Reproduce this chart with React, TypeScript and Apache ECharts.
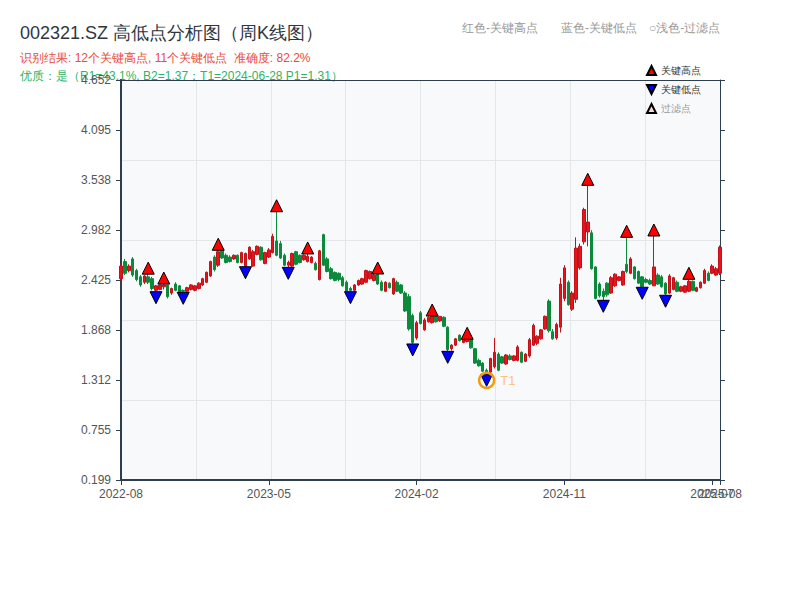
import React, { useEffect, useRef } from "react";
import * as echarts from "echarts";

// Weekly bar dates (Fridays)
const dates2022 = ["08-26","09-02","09-09","09-16","09-23","09-30","10-07","10-14","10-21","10-28","11-04","11-11","11-18","11-25","12-02","12-09","12-16","12-23","12-30"];
const dates2023 = ["01-06","01-13","01-20","01-27","02-03","02-10","02-17","02-24","03-03","03-10","03-17","03-24","03-31","04-07","04-14","04-21","04-28","05-05","05-12","05-19","05-26","06-02","06-09","06-16","06-23","06-30","07-07","07-14","07-21","07-28","08-04","08-11","08-18","08-25","09-01","09-08","09-15","09-22","09-29","10-06","10-13","10-20","10-27","11-03","11-10","11-17","11-24","12-01","12-08","12-15","12-22","12-29"];
const dates2024 = ["01-05","01-12","01-19","01-26","02-02","02-09","02-16","02-23","03-01","03-08","03-15","03-22","03-29","04-05","04-12","04-19","04-26","05-03","05-10","05-17","05-24","05-31","06-07","06-14","06-21","06-28","07-05","07-12","07-19","07-26","08-02","08-09","08-16","08-23","08-30","09-06","09-13","09-20","09-27","10-04","10-11","10-18","10-25","11-01","11-08","11-15","11-22","11-29","12-06","12-13","12-20","12-27"];
const dates2025 = ["01-03","01-10","01-17","01-24","01-31","02-07","02-14","02-21","02-28","03-07","03-14","03-21","03-28","04-04","04-11","04-18","04-25","05-02","05-09","05-16","05-23","05-30","06-06","06-13","06-20","06-27","07-04","07-11","07-18","07-25","08-01","08-08"];

const weekDates = [
  ...dates2022.map((d) => "2022-" + d),
  ...dates2023.map((d) => "2023-" + d),
  ...dates2024.map((d) => "2024-" + d),
  ...dates2025.map((d) => "2025-" + d),
];

const openPrices = [
  2.44, 2.63, 2.53, 2.66, 2.53, 2.46, 2.40, 2.46, 2.44, 2.31,
  2.32, 2.35, 2.37, 2.28, 2.38, 2.36, 2.31, 2.30, 2.32, 2.31,
  2.33, 2.37, 2.40, 2.47, 2.68, 2.59, 2.75, 2.70, 2.68, 2.66,
  2.70, 2.62, 2.58, 2.66, 2.58, 2.71, 2.79, 2.61, 2.68, 2.73,
  2.86, 2.83, 2.70, 2.59, 2.58, 2.74, 2.70, 2.65, 2.63, 2.62,
  2.61, 2.43, 2.93, 2.66, 2.55, 2.51, 2.50, 2.45, 2.40, 2.33,
  2.31, 2.37, 2.38, 2.40, 2.44, 2.42, 2.49, 2.40, 2.30, 2.39,
  2.27, 2.40, 2.37, 2.28, 2.24, 2.03, 1.78, 2.06, 1.87, 1.96,
  1.95, 2.02, 1.97, 2.01, 1.90, 1.66, 1.70, 1.81, 1.73, 1.74,
  1.76, 1.66, 1.53, 1.50, 1.42, 1.40, 1.46, 1.60, 1.57, 1.49,
  1.58, 1.53, 1.53, 1.62, 1.52, 1.58, 1.70, 1.72, 1.77, 1.88,
  2.19, 1.85, 1.78, 1.90, 2.22, 2.40, 2.10, 2.21, 2.56, 2.85,
  2.96, 2.95, 2.57, 2.38, 2.30, 2.39, 2.28, 2.36, 2.42, 2.37,
  2.60, 2.50, 2.57, 2.52, 2.46, 2.43, 2.42, 2.36, 2.48, 2.46,
  2.39, 2.28, 2.32, 2.40, 2.30, 2.29, 2.30, 2.41, 2.30, 2.34,
  2.39, 2.50, 2.50, 2.48, 2.50,
];
const closePrices = [
  2.58, 2.50, 2.58, 2.48, 2.43, 2.37, 2.47, 2.40, 2.33, 2.36,
  2.37, 2.37, 2.24, 2.33, 2.31, 2.28, 2.30, 2.34, 2.37, 2.36,
  2.39, 2.44, 2.51, 2.63, 2.54, 2.74, 2.67, 2.62, 2.63, 2.70,
  2.62, 2.73, 2.72, 2.79, 2.74, 2.80, 2.65, 2.73, 2.76, 2.91,
  2.70, 2.67, 2.59, 2.62, 2.72, 2.60, 2.62, 2.70, 2.69, 2.68,
  2.54, 2.75, 2.59, 2.52, 2.44, 2.42, 2.43, 2.36, 2.30, 2.31,
  2.37, 2.42, 2.44, 2.53, 2.52, 2.48, 2.38, 2.31, 2.40, 2.34,
  2.44, 2.30, 2.28, 2.08, 1.88, 1.73, 1.95, 1.94, 1.98, 2.01,
  2.02, 1.96, 2.02, 1.91, 1.65, 1.70, 1.77, 1.75, 1.78, 1.76,
  1.67, 1.50, 1.47, 1.41, 1.39, 1.55, 1.62, 1.42, 1.50, 1.59,
  1.54, 1.58, 1.68, 1.51, 1.60, 1.76, 1.92, 1.80, 1.87, 2.02,
  1.86, 1.77, 1.93, 2.38, 2.56, 2.15, 2.28, 2.78, 2.80, 3.21,
  3.07, 2.55, 2.22, 2.25, 2.24, 2.26, 2.45, 2.49, 2.46, 2.52,
  2.52, 2.66, 2.44, 2.39, 2.35, 2.40, 2.38, 2.57, 2.38, 2.35,
  2.27, 2.47, 2.45, 2.30, 2.35, 2.36, 2.41, 2.31, 2.34, 2.40,
  2.53, 2.42, 2.58, 2.55, 2.79,
];
const lowPrices = [
  2.42, 2.48, 2.51, 2.46, 2.41, 2.35, 2.38, 2.38, 2.31, 2.295,
  2.31, 2.32, 2.22, 2.26, 2.30, 2.27, 2.288, 2.29, 2.31, 2.30,
  2.32, 2.36, 2.39, 2.46, 2.52, 2.57, 2.66, 2.61, 2.62, 2.65,
  2.61, 2.61, 2.573, 2.65, 2.575, 2.70, 2.64, 2.60, 2.67, 2.72,
  2.69, 2.66, 2.58, 2.566, 2.57, 2.59, 2.61, 2.64, 2.62, 2.61,
  2.53, 2.42, 2.58, 2.51, 2.43, 2.41, 2.41, 2.35, 2.29, 2.295,
  2.30, 2.36, 2.37, 2.39, 2.43, 2.41, 2.37, 2.30, 2.29, 2.33,
  2.26, 2.29, 2.27, 2.07, 1.86, 1.713, 1.76, 1.93, 1.86, 1.95,
  1.94, 1.95, 1.96, 1.90, 1.631, 1.64, 1.69, 1.74, 1.72, 1.73,
  1.66, 1.49, 1.46, 1.40, 1.375, 1.39, 1.44, 1.41, 1.49, 1.48,
  1.53, 1.52, 1.52, 1.50, 1.51, 1.56, 1.69, 1.70, 1.76, 1.87,
  1.84, 1.76, 1.76, 1.84, 2.19, 2.14, 2.08, 2.17, 2.54, 2.82,
  2.80, 2.54, 2.21, 2.23, 2.199, 2.24, 2.27, 2.35, 2.41, 2.36,
  2.50, 2.49, 2.43, 2.38, 2.344, 2.39, 2.37, 2.36, 2.37, 2.34,
  2.255, 2.27, 2.31, 2.29, 2.29, 2.28, 2.29, 2.30, 2.29, 2.33,
  2.38, 2.41, 2.49, 2.47, 2.48,
];
const highPrices = [
  2.60, 2.66, 2.60, 2.68, 2.55, 2.48, 2.48, 2.49, 2.46, 2.37,
  2.375, 2.38, 2.37, 2.34, 2.40, 2.37, 2.32, 2.35, 2.38, 2.37,
  2.40, 2.45, 2.52, 2.64, 2.70, 2.756, 2.75, 2.72, 2.70, 2.71,
  2.71, 2.74, 2.73, 2.80, 2.76, 2.81, 2.80, 2.74, 2.78, 2.94,
  3.185, 2.86, 2.72, 2.64, 2.73, 2.75, 2.71, 2.71, 2.715, 2.69,
  2.63, 2.76, 2.94, 2.68, 2.57, 2.52, 2.51, 2.47, 2.42, 2.35,
  2.38, 2.43, 2.45, 2.54, 2.53, 2.49, 2.492, 2.42, 2.41, 2.40,
  2.45, 2.42, 2.38, 2.30, 2.27, 2.05, 1.97, 2.08, 2.00, 2.02,
  2.024, 2.02, 2.02, 2.02, 1.91, 1.71, 1.78, 1.82, 1.79, 1.765,
  1.76, 1.67, 1.55, 1.51, 1.44, 1.56, 1.78, 1.62, 1.58, 1.60,
  1.60, 1.59, 1.70, 1.63, 1.61, 1.78, 1.94, 1.81, 1.88, 2.03,
  2.21, 1.88, 1.95, 2.45, 2.59, 2.42, 2.30, 2.90, 2.83, 3.23,
  3.479, 2.98, 2.58, 2.40, 2.33, 2.40, 2.47, 2.50, 2.47, 2.53,
  2.90, 2.68, 2.58, 2.53, 2.47, 2.45, 2.44, 2.915, 2.50, 2.48,
  2.40, 2.49, 2.46, 2.42, 2.36, 2.37, 2.433, 2.42, 2.35, 2.41,
  2.55, 2.52, 2.60, 2.57, 2.81,
];

const keyHighIdx = [7, 11, 25, 40, 48, 66, 80, 89, 120, 130, 137, 146];
const keyLowIdx = [9, 16, 32, 43, 59, 75, 84, 94, 124, 134, 140];
const filteredIdx: number[] = [];
const t1Idx = 94;

const yMin = 0.1986;
const yMax = 4.6516;
const yInterval = 0.556625;

const titleText = "002321.SZ 高低点分析图（周K线图）";
const resultText = "识别结果: 12个关键高点, 11个关键低点  准确度: 82.2%";
const qualityText = "优质：是（R1=43.1%, B2=1.37；T1=2024-06-28 P1=1.31）";
const noteTexts = ["红色-关键高点", "蓝色-关键低点", "○浅色-过滤点"];

export default function App() {
  const ref = useRef<HTMLDivElement>(null);
  useEffect(() => {
    if (!ref.current) return;
    const chart = echarts.init(ref.current, undefined, { renderer: "svg" });
    const N = weekDates.length;
    const axisColor = "#2c3e50";
    const splitColor = "#e3e6eb";
    const candleData = weekDates.map((_, i) => [openPrices[i], closePrices[i], lowPrices[i], highPrices[i]]);

    const option: any = {
      animation: false,
      backgroundColor: "#ffffff",
      title: {
        text: titleText,
        left: 20,
        top: 24,
        padding: 0,
        textStyle: { fontSize: 18, fontWeight: "normal", color: "#2f3640" },
      },
      graphic: [
        { type: "text", left: 20, top: 52, style: { text: resultText, fill: "#e74c3c", fontSize: 12 } },
        { type: "text", left: 20, top: 70, style: { text: qualityText, fill: "#2fb365", fontSize: 12 } },
        { type: "text", left: 462, top: 22, style: { text: noteTexts[0], fill: "#999999", fontSize: 12 } },
        { type: "text", left: 561, top: 22, style: { text: noteTexts[1], fill: "#999999", fontSize: 12 } },
        { type: "text", left: 649, top: 22, style: { text: noteTexts[2], fill: "#999999", fontSize: 12 } },
      ],
      legend: {
        orient: "vertical",
        left: 646,
        top: 65,
        padding: 0,
        itemWidth: 9,
        itemHeight: 9,
        itemGap: 8,
        textStyle: { fontSize: 10, color: "#333" },
        data: [
          { name: "关键高点", icon: "triangle" },
          { name: "关键低点", icon: "path://M0,0L10,0L5,10Z" },
          { name: "过滤点", icon: "triangle", textStyle: { color: "#999" } },
        ],
      },
      grid: {
        left: 121,
        right: 80,
        top: 80,
        bottom: 120,
        show: true,
        backgroundColor: "#f8f9fb",
        borderWidth: 0,
      },
      xAxis: [
        {
          type: "category",
          data: weekDates,
          boundaryGap: false,
          position: "bottom",
          axisLine: { show: true, lineStyle: { color: axisColor, width: 2 } },
          axisTick: { show: true, length: 5, lineStyle: { color: axisColor } },
          axisLabel: {
            interval: (i: number) => i % 38 === 0,
            formatter: (v: string) => v.slice(0, 7),
            color: "#555",
            fontSize: 12,
            margin: 8,
          },
          splitLine: { show: false },
        },
        {
          type: "value",
          position: "top",
          min: 0,
          max: 8,
          interval: 1,
          axisLine: { show: true, lineStyle: { color: axisColor, width: 1 } },
          axisTick: { show: false },
          axisLabel: { show: false },
          splitLine: { show: true, lineStyle: { color: splitColor, width: 1 } },
        },
        {
          type: "category",
          data: weekDates,
          boundaryGap: false,
          position: "bottom",
          axisLine: { show: false },
          axisTick: { show: true, length: 5, lineStyle: { color: axisColor } },
          axisLabel: {
            interval: (i: number) => i === N - 1,
            formatter: (v: string) => v.slice(0, 7),
            color: "#555",
            fontSize: 12,
            margin: 8,
          },
          splitLine: { show: false },
        },
      ],
      yAxis: [
        {
          type: "value",
          position: "left",
          min: yMin,
          max: yMax,
          interval: yInterval,
          axisLine: { show: true, lineStyle: { color: axisColor, width: 2 } },
          axisTick: { show: true, length: 5, lineStyle: { color: axisColor } },
          axisLabel: { formatter: (v: number) => v.toFixed(3), color: "#555", fontSize: 12, margin: 10 },
          splitLine: { show: false },
        },
        {
          type: "value",
          position: "right",
          min: yMin,
          max: yMax,
          interval: yInterval,
          axisLine: { show: true, lineStyle: { color: axisColor, width: 1 } },
          axisTick: { show: true, length: 5, lineStyle: { color: axisColor } },
          axisLabel: { show: false },
          splitLine: { show: false },
        },
        {
          type: "value",
          position: "left",
          min: 0,
          max: 5,
          interval: 1,
          axisLine: { show: false },
          axisTick: { show: false },
          axisLabel: { show: false },
          splitLine: { show: true, lineStyle: { color: splitColor, width: 1 } },
        },
      ],
      series: [
        {
          name: "周K线",
          type: "candlestick",
          xAxisIndex: 0,
          yAxisIndex: 0,
          data: candleData,
          barWidth: 3,
          itemStyle: {
            color: "#e8141c",
            color0: "#0b8a3c",
            borderColor: "#c3111a",
            borderColor0: "#0b8a3c",
            borderWidth: 1,
          },
          z: 3,
        },
        {
          name: "关键高点",
          type: "scatter",
          xAxisIndex: 0,
          yAxisIndex: 0,
          data: keyHighIdx.map((i) => [i, highPrices[i]]),
          symbol: "triangle",
          symbolSize: [12, 12],
          symbolOffset: [0, -6],
          itemStyle: { color: "#ff0000", borderColor: "#000", borderWidth: 1, opacity: 1 },
          z: 5,
        },
        {
          name: "关键低点",
          type: "scatter",
          xAxisIndex: 0,
          yAxisIndex: 0,
          data: keyLowIdx.map((i) => [i, lowPrices[i]]),
          symbol: "triangle",
          symbolRotate: 180,
          symbolSize: [12, 12],
          symbolOffset: [0, 6],
          itemStyle: { color: "#0000ff", borderColor: "#000", borderWidth: 1, opacity: 1 },
          z: 5,
        },
        {
          name: "过滤点",
          type: "scatter",
          xAxisIndex: 0,
          yAxisIndex: 0,
          data: filteredIdx.map((i) => [i, highPrices[i]]),
          symbol: "triangle",
          symbolSize: 10,
          itemStyle: { color: "#ffd6d6", borderColor: "#000", borderWidth: 1, opacity: 1 },
          z: 4,
        },
        {
          name: "T1",
          type: "scatter",
          xAxisIndex: 0,
          yAxisIndex: 0,
          data: [[t1Idx, lowPrices[t1Idx]]],
          symbol: "circle",
          symbolSize: 15,
          symbolOffset: [0, 6],
          itemStyle: { color: "rgba(0,0,0,0)", borderColor: "#f39c12", borderWidth: 2.5, opacity: 1 },
          label: { show: true, formatter: "T1", position: "right", distance: 5, color: "#f7c57e", fontSize: 13 },
          z: 6,
        },
      ],
    };
    chart.setOption(option);
    return () => chart.dispose();
  }, []);
  return <div ref={ref} style={{ width: 800, height: 600, position: "absolute", left: 0, top: 0 }} />;
}
